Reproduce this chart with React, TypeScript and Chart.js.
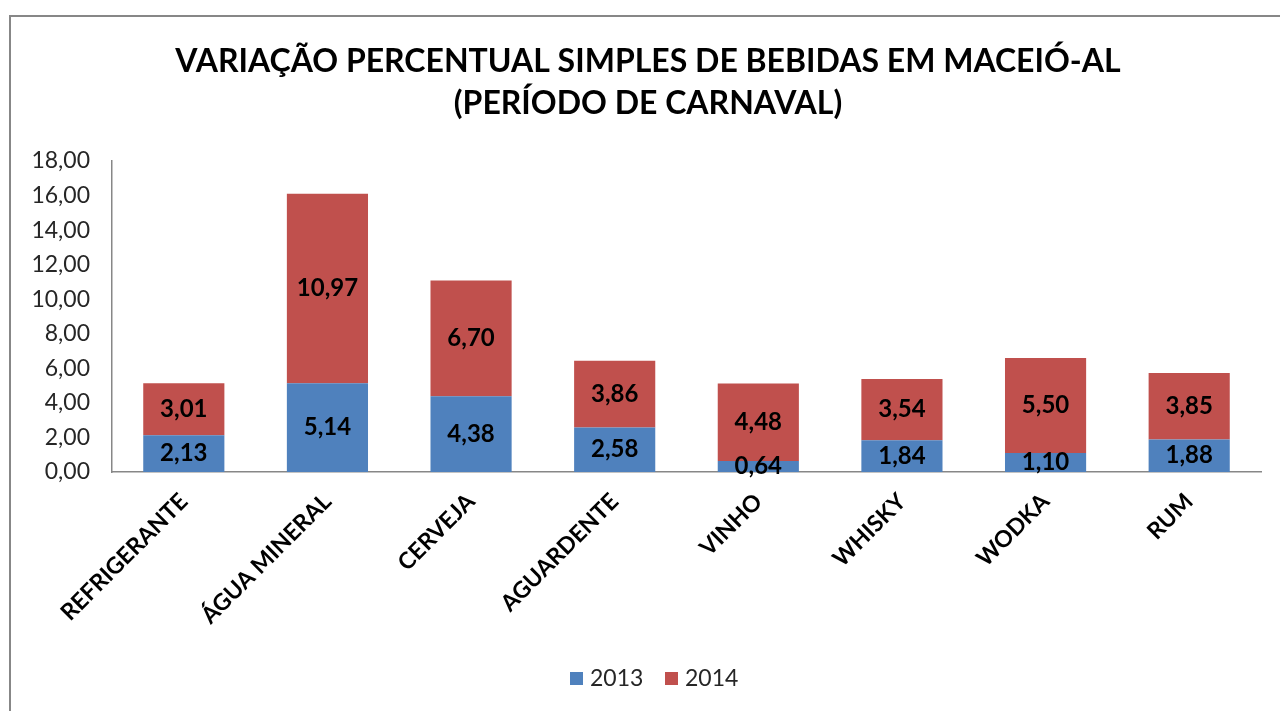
import React, { useEffect, useRef } from "react";
import { Chart, registerables } from "chart.js";

Chart.register(...registerables);

const categories = ["REFRIGERANTE", "ÁGUA MINERAL", "CERVEJA", "AGUARDENTE", "VINHO", "WHISKY", "WODKA", "RUM"];
const values2013 = [2.13, 5.14, 4.38, 2.58, 0.64, 1.84, 1.1, 1.88];
const values2014 = [3.01, 10.97, 6.7, 3.86, 4.48, 3.54, 5.5, 3.85];
const seriesNames = ["2013", "2014"];
const titleLines = ["VARIAÇÃO PERCENTUAL SIMPLES DE BEBIDAS EM MACEIÓ-AL", "(PERÍODO DE CARNAVAL)"];

const BLUE = "#4F81BD";
const RED = "#C0504D";
const FONT = "Lato, 'Open Sans', sans-serif";

const fmt = (v: number) => v.toFixed(2).replace(".", ",");

const decorPlugin = {
  id: "decor",
  beforeDraw(chart: any) {
    const ctx = chart.ctx;
    ctx.save();
    ctx.fillStyle = "#ffffff";
    ctx.fillRect(0, 0, chart.width, chart.height);
    ctx.strokeStyle = "#878787";
    ctx.lineWidth = 2;
    ctx.beginPath();
    ctx.moveTo(10, 800);
    ctx.lineTo(10, 16);
    ctx.lineTo(1300, 16);
    ctx.stroke();
    ctx.restore();
  },
  afterDatasetsDraw(chart: any) {
    const ctx = chart.ctx;
    ctx.save();
    ctx.font = `bold 24px ${FONT}`;
    ctx.fillStyle = "#000";
    ctx.textAlign = "center";
    ctx.textBaseline = "middle";
    chart.data.datasets.forEach((ds: any, di: number) => {
      const meta = chart.getDatasetMeta(di);
      meta.data.forEach((bar: any, i: number) => {
        const y = (bar.y + bar.base) / 2;
        ctx.fillText(fmt(ds.data[i]), bar.x, y);
      });
    });
    ctx.restore();
  },
  afterDraw(chart: any) {
    const ctx = chart.ctx;
    ctx.save();
    // title
    ctx.fillStyle = "#000";
    ctx.font = `bold 32px ${FONT}`;
    ctx.textAlign = "center";
    ctx.textBaseline = "middle";
    ctx.fillText(titleLines[0], 648, 62);
    ctx.fillText(titleLines[1], 648, 104);
    // legend
    ctx.font = `23px ${FONT}`;
    ctx.textAlign = "left";
    const items = [
      { label: seriesNames[0], color: BLUE, x: 570 },
      { label: seriesNames[1], color: RED, x: 665 },
    ];
    items.forEach((it) => {
      ctx.fillStyle = it.color;
      ctx.fillRect(it.x, 672, 13, 13);
      ctx.fillStyle = "#262626";
      ctx.fillText(it.label, it.x + 20, 679);
    });
    ctx.restore();
  },
};

export default function App() {
  const ref = useRef<HTMLCanvasElement | null>(null);
  useEffect(() => {
    if (!ref.current) return;
    const chart = new Chart(ref.current, {
      type: "bar",
      data: {
        labels: categories,
        datasets: [
          { label: seriesNames[0], data: values2013, backgroundColor: BLUE, barPercentage: 1, categoryPercentage: 0.565 },
          { label: seriesNames[1], data: values2014, backgroundColor: RED, barPercentage: 1, categoryPercentage: 0.565 },
        ],
      },
      options: {
        responsive: false,
        animation: false,
        devicePixelRatio: 1,
        layout: { padding: { left: 0, top: 161, right: 19, bottom: 0 } },
        plugins: { legend: { display: false }, title: { display: false }, tooltip: { enabled: false } },
        scales: {
          x: {
            stacked: true,
            grid: { display: false, drawTicks: false },
            border: { display: true, color: "#878787", width: 1.5 },
            ticks: {
              autoSkip: false,
              maxRotation: 45,
              minRotation: 45,
              padding: 16,
              color: "#000",
              font: { family: FONT, size: 23, weight: "bold" },
            },
            afterFit: (s: any) => {
              s.height = 711 - 472;
            },
          },
          y: {
            stacked: true,
            min: 0,
            max: 18,
            grid: { display: false, drawTicks: false },
            border: { display: true, color: "#878787", width: 1.5 },
            ticks: {
              stepSize: 2,
              padding: 22,
              color: "#262626",
              font: { family: FONT, size: 23 },
              callback: (v: any) => fmt(Number(v)),
            },
            afterFit: (s: any) => {
              s.width = 112;
            },
          },
        },
      },
      plugins: [decorPlugin],
    });
    return () => chart.destroy();
  }, []);
  return (
    <div style={{ position: "fixed", left: 0, top: 0, width: 1280, height: 711 }}>
      <canvas ref={ref} width={1280} height={711} style={{ display: "block" }} />
    </div>
  );
}
